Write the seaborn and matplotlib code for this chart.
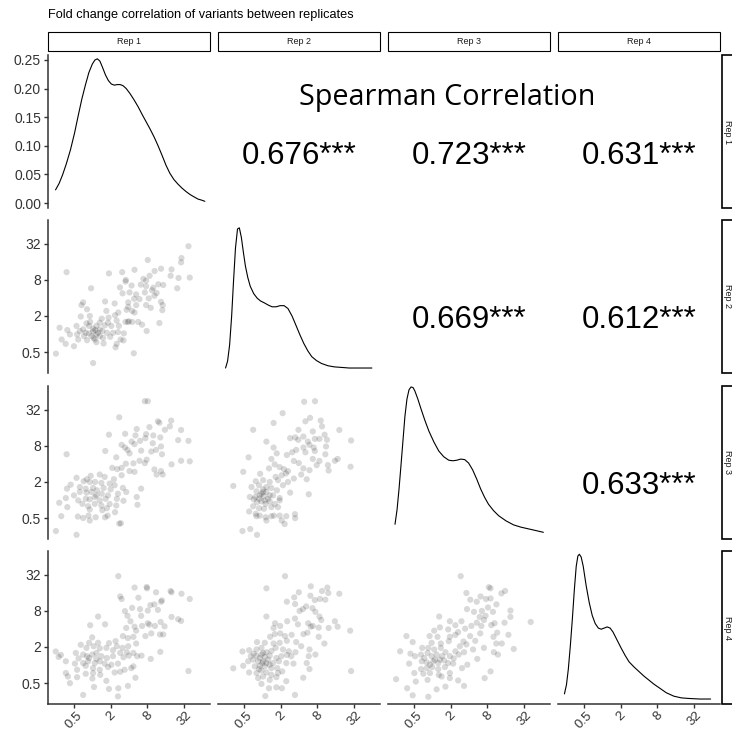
import numpy as np
import pandas as pd
import matplotlib
matplotlib.use("Agg")
import matplotlib.pyplot as plt
from matplotlib.patches import Rectangle
import seaborn as sns

# ---------------- data (log2 fold change) ----------------
reps = ["Rep 1", "Rep 2", "Rep 3", "Rep 4"]
tick_pos = [-1, 1, 3, 5]
tick_labels = ["0.5", "2", "8", "32"]
dens_ticks = [0.00, 0.05, 0.10, 0.15, 0.20, 0.25]

# scatter: Rep1 (x) vs Rep2 (y)
p21_x = [5.23,4.85,4.83,3.02,-1.39,0.91,1.63,2.30,3.39,3.74,4.31,4.26,4.69,5.30,3.12,2.78,1.83,1.81,-0.06,1.51,
         2.14,2.64,2.93,3.32,3.59,3.86,4.62,1.65,2.39,2.86,3.25,3.50,3.07,2.28,1.96,-0.49,-0.58,0.70,1.22,2.39,
         1.96,2.93,3.18,3.74,3.83,3.81,-0.28,0.77,1.42,1.24,1.87,2.17,-0.62,-0.13,0.52,0.89,1.33,1.81,1.99,2.17,
         2.50,2.71,3.65,-1.77,-1.35,-0.85,-0.31,-0.17,0.05,0.23,0.41,0.68,1.04,1.45,-0.35,-0.17,0.05,0.23,0.32,0.41,
         -0.67,-0.82,-1.21,0.55,0.80,1.40,1.72,2.96,-1.66,-0.76,-0.28,0.08,0.59,0.98,1.54,-1.44,-0.99,0.23,0.62,1.33,
         1.27,1.70,-1.97,2.26,0.05,-0.04,-0.44,0.17,1.13,2.03,2.57,3.38,1.94,2.93,2.30,0.86,-0.49,0.14,0.41,-0.11]
p21_y = [4.85,4.20,3.96,4.09,3.42,3.35,3.42,3.55,3.48,3.61,3.57,3.22,3.10,3.12,3.22,3.05,2.99,2.90,2.53,2.58,
         2.68,2.73,2.64,2.56,2.75,2.71,2.53,2.25,2.19,2.30,2.42,2.27,1.97,1.95,1.75,1.75,1.60,1.80,1.69,1.60,
         1.50,1.60,1.45,1.78,1.60,1.32,1.37,1.28,1.19,1.04,1.34,1.28,0.97,1.00,0.85,0.91,0.74,0.67,0.71,0.67,
         0.67,0.52,0.61,0.35,0.22,0.45,0.59,0.45,0.30,0.45,0.63,0.48,0.45,0.45,0.07,0.04,0.15,-0.02,0.07,-0.11,
         0.17,-0.02,-0.02,0.17,0.07,0.11,0.04,0.17,-0.30,-0.30,-0.34,-0.21,-0.21,-0.15,-0.30,-0.54,-0.67,-0.45,-0.52,-0.54,
         -0.73,-0.35,-1.08,-1.06,-1.60,-0.11,-0.11,0.22,0.07,2.30,1.93,2.12,0.67,2.95,1.19,0.63,0.26,-0.30,0.26,0.67]

# scatter: Rep1 (x) vs Rep3 (y)
p31_x = [2.86,3.02,1.47,3.57,3.65,4.29,2.42,3.11,3.95,4.22,4.83,0.91,1.79,2.35,2.93,3.32,2.89,3.70,4.67,5.23,
         1.60,1.78,1.92,2.14,2.30,2.60,3.29,3.74,0.71,2.03,2.66,3.21,3.47,3.79,-1.39,1.31,1.83,2.24,2.57,2.96,
         2.86,4.31,4.83,5.30,1.09,1.36,1.60,2.03,2.30,3.38,3.74,3.50,3.83,-0.85,-0.29,-0.08,0.41,0.68,1.18,1.60,
         -1.17,-0.46,-0.13,0.16,0.50,0.95,1.22,-1.37,-0.67,-0.35,0.05,0.26,0.62,1.00,1.67,2.66,-0.99,-0.67,-0.31,-0.04,
         0.23,0.52,0.86,1.40,1.85,-1.43,-0.76,-0.35,-0.13,0.14,0.41,0.73,1.34,1.70,2.42,-1.79,-0.53,-0.22,0.14,0.50,
         0.95,-1.35,-0.13,0.55,0.80,1.31,2.46,-1.68,-0.78,-0.49,-0.20,-0.13,0.19,0.70,0.84,1.24,1.47,1.56,-1.97,-0.85]
p31_y = [5.46,5.46,4.57,4.35,4.27,4.39,3.92,4.03,3.88,4.07,3.87,3.61,3.66,3.57,3.64,3.57,3.42,3.46,3.31,3.27,
         3.05,2.90,2.77,3.23,3.09,3.27,3.14,2.96,2.71,2.58,2.73,2.68,2.77,2.53,2.53,2.36,2.01,2.03,2.17,2.23,
         2.04,1.97,2.17,2.14,1.78,1.71,1.78,1.60,1.56,1.69,1.60,1.41,1.41,1.23,1.15,1.34,1.41,1.28,1.15,1.37,
         0.85,1.04,1.00,1.00,0.95,0.91,0.82,0.63,0.72,0.63,0.67,0.54,0.67,0.59,0.67,0.63,0.26,0.45,0.41,0.45,
         0.26,0.35,0.26,0.35,0.45,0.11,-0.02,0.07,0.04,0.17,-0.02,0.07,0.07,-0.04,0.17,-0.15,-0.21,-0.34,-0.21,-0.30,
         -0.22,-0.39,-0.52,-0.56,-0.45,-0.30,-0.26,-0.89,-0.91,-0.99,-0.86,-1.13,-0.95,-0.95,-0.86,-0.67,-1.30,-1.28,-1.71,-1.92]

# scatter: Rep2 (x) vs Rep3 (y)
p32_x = [2.28,2.87,1.11,0.62,2.35,2.60,3.18,3.25,-0.49,1.97,4.19,2.75,3.39,1.79,1.96,2.24,0.23,1.52,2.48,2.86,
         3.11,3.52,4.83,2.57,2.80,2.24,1.85,0.62,2.86,3.47,0.79,1.34,1.63,2.35,3.43,-0.74,0.50,1.72,1.99,2.75,
         2.96,3.11,3.57,3.95,4.10,4.80,0.68,0.95,1.18,1.40,1.29,2.57,2.24,3.61,-1.03,0.37,-0.11,0.73,1.06,1.72,
         2.12,2.42,-1.57,-0.35,0.05,0.41,0.86,1.40,-0.58,-0.17,0.05,0.23,0.50,0.80,1.52,2.53,-0.31,-0.04,-0.67,-0.37,
         -0.17,0.08,0.32,0.59,0.95,-0.28,-0.04,0.19,0.41,0.68,0.95,-0.49,-0.17,0.10,0.50,0.86,-0.71,-0.35,-0.13,0.19,
         0.50,-0.31,0.23,0.64,0.95,1.06,1.22,1.31,1.78,1.79,-1.07,-0.65,-0.28,0.05,-0.13,0.23,-0.46,0.41,1.13,0.14]
p32_y = [5.43,5.46,4.80,4.26,4.35,4.54,4.39,4.07,3.88,3.88,3.87,3.79,3.61,3.46,3.33,3.51,3.23,3.42,3.23,3.38,
         3.38,3.33,3.29,3.05,2.90,2.90,2.77,2.90,2.71,2.96,2.58,2.49,2.64,2.64,2.53,2.36,2.27,2.16,2.04,2.27,
         1.93,2.16,1.93,2.17,2.27,1.84,1.97,1.82,1.71,1.60,1.47,1.65,1.75,1.63,1.56,1.75,1.45,1.28,1.37,1.19,
         1.41,1.15,0.78,1.04,1.10,1.00,1.10,1.00,0.72,0.82,0.59,0.72,0.67,0.54,0.41,0.32,0.48,0.35,0.17,0.17,
         0.07,0.22,0.07,0.26,0.11,-0.11,-0.07,-0.21,-0.07,-0.22,-0.02,-0.34,-0.45,-0.48,-0.39,-0.39,-0.63,-0.76,-0.86,-0.95,
         -0.89,-0.89,-1.13,-0.86,-0.86,-1.13,-1.32,-0.89,-0.78,-1.00,-1.71,-1.60,-1.92,0.45,0.26,0.45,0.04,0.26,0.82,-0.02]

# scatter: Rep1 (x) vs Rep4 (y)
p41_x = [1.42,2.30,2.96,2.98,3.47,4.26,4.31,4.85,1.52,1.60,2.51,5.30,3.38,3.79,3.74,1.78,2.17,2.60,3.02,3.57,
         0.32,1.92,2.08,2.66,3.16,4.31,4.67,4.83,-0.11,0.70,1.85,2.30,2.71,3.02,3.11,3.41,3.72,3.93,2.39,3.21,
         2.89,3.68,3.86,1.67,1.94,2.24,1.27,0.00,-0.17,-0.62,0.32,0.91,1.34,1.65,1.96,2.39,-1.98,-1.70,-0.89,-0.31,
         0.08,0.41,0.77,1.13,1.52,1.88,2.24,2.44,2.68,3.70,-1.82,-1.43,-0.74,-0.49,-0.28,0.01,0.23,0.50,0.80,1.13,
         1.70,1.99,3.18,-0.94,-0.49,-0.22,0.14,0.41,0.68,1.04,1.40,2.24,-0.82,-0.35,0.05,0.41,0.86,1.22,1.52,1.76,
         2.12,-1.43,-1.32,-0.82,-0.35,0.05,0.44,5.23,-1.21,0.01,0.77,2.35,0.10,0.91,1.42,1.94,-0.49,1.40,-0.17,0.23]
p41_y = [4.91,4.28,4.31,4.24,4.02,4.09,4.02,3.94,3.79,3.65,3.72,3.65,3.35,3.57,3.50,2.98,3.16,3.09,3.01,3.05,
         2.68,2.72,2.42,2.72,3.31,2.66,2.53,2.44,2.20,2.25,2.05,2.12,2.16,2.31,2.23,2.16,2.38,2.14,1.90,1.75,
         1.60,1.69,1.69,1.60,1.49,1.56,1.32,1.53,1.23,1.12,1.23,1.21,1.04,0.95,1.04,1.19,0.75,0.56,0.67,0.95,
         1.04,0.93,0.95,0.82,0.67,0.71,0.67,0.49,0.52,0.73,0.45,0.21,0.37,0.58,0.49,0.58,0.67,0.49,0.39,0.49,
         0.43,0.52,0.34,0.08,0.11,0.21,0.11,0.21,0.08,0.02,0.08,-0.07,-0.26,-0.04,-0.17,-0.26,-0.11,-0.41,-0.37,-0.26,
         -0.17,-0.44,-0.63,-0.67,-0.48,-0.44,-0.54,-0.33,-1.00,-0.74,-0.87,-0.70,-1.21,-1.32,-1.28,-1.15,-1.65,-1.73,0.39,0.34]

# scatter: Rep2 (x) vs Rep4 (y)
p42_x = [1.24,0.23,2.64,3.25,3.54,3.59,1.99,4.19,1.74,2.62,2.86,3.14,3.43,1.34,1.79,2.39,2.21,2.03,2.73,2.89,
         3.11,3.21,0.23,1.36,1.78,1.94,0.70,0.98,0.62,2.50,2.64,2.75,3.07,3.61,3.95,4.10,4.78,0.43,0.68,0.98,
         1.24,1.60,2.24,2.46,3.07,3.38,-0.28,0.14,0.62,0.95,1.34,1.85,2.12,2.57,-1.07,-0.71,-0.31,-0.04,0.23,0.50,
         0.73,1.13,1.45,1.81,2.89,-1.03,-1.57,-0.62,-0.31,-0.04,0.14,0.41,0.77,1.04,1.58,2.53,-0.76,-0.49,-0.22,0.05,
         0.32,0.59,0.91,1.31,2.42,-0.40,-0.13,0.14,0.41,0.82,1.70,-0.71,-0.31,-0.04,0.23,0.50,0.86,2.57,4.83,-0.22,
         0.05,0.41,0.77,1.31,2.23,-0.04,0.37,0.77,1.07,0.17,1.78,-0.13,0.05,-0.17,-0.46,0.23,0.01,0.50,1.09,1.34]
p42_y = [4.91,4.24,4.35,4.09,4.28,3.98,4.02,3.94,3.74,3.83,3.59,3.65,3.61,3.50,3.37,3.24,3.09,2.99,3.14,2.94,
         2.68,2.49,2.68,2.42,2.57,2.25,2.31,2.16,2.05,2.31,2.12,2.16,2.07,2.05,2.42,2.12,1.90,1.56,1.71,1.75,
         1.60,1.67,1.71,1.79,1.56,1.19,1.27,1.23,1.19,1.23,1.34,1.27,1.04,0.86,0.75,0.82,0.86,0.95,0.71,0.78,
         0.95,0.86,0.76,0.71,0.58,-0.04,-0.18,0.49,0.52,0.58,0.45,0.52,0.39,0.49,0.49,0.49,0.21,0.30,0.21,0.21,
         0.30,0.11,0.21,0.11,0.11,-0.07,-0.04,-0.07,0.02,-0.17,0.08,-0.41,-0.44,-0.30,-0.41,-0.54,-0.44,-0.22,-0.33,-0.72,
         -0.63,-0.82,-0.67,-0.89,-0.70,-1.04,-1.28,-1.23,-1.28,-1.71,-1.65,0.39,0.67,-0.22,0.63,0.11,0.11,-0.17,-0.35,0.56]

# scatter: Rep3 (x) vs Rep4 (y)
p43_x = [1.55,3.08,3.17,3.76,3.96,1.86,2.07,2.63,2.92,2.42,3.17,3.49,3.03,4.25,1.89,2.27,2.70,3.30,2.58,2.81,
         2.90,4.25,0.38,0.96,1.26,1.59,1.79,2.13,2.42,2.67,3.21,3.39,3.93,5.35,0.42,0.11,0.87,1.41,2.06,2.61,
         3.33,3.53,4.14,-1.40,-0.14,0.29,0.96,1.26,1.70,2.34,2.81,3.48,3.78,4.43,-1.06,-0.03,0.47,0.90,1.50,1.86,
         -1.74,-1.18,-0.54,-0.21,0.11,0.47,0.72,1.26,1.73,2.22,3.35,3.57,-0.93,-0.61,-0.25,-0.03,0.24,0.54,0.96,1.44,
         2.45,-1.25,-0.57,-0.30,0.06,0.33,0.65,1.14,1.91,-0.61,-0.30,0.00,0.33,0.69,1.62,-0.97,-0.48,-0.12,0.36,0.96,
         3.17,-1.96,-0.89,-0.25,0.51,0.96,1.41,2.85,-1.36,0.24,0.72,1.73,-1.06,-0.21,0.15,-0.12,-0.43,0.42,0.87,1.17]
p43_y = [4.91,4.30,4.24,3.96,4.09,3.98,3.61,3.79,3.65,3.50,3.68,3.35,3.18,3.01,3.09,2.94,2.99,2.94,2.66,2.49,
         2.72,2.66,2.68,2.42,2.20,2.42,2.01,2.16,2.34,2.16,2.21,2.31,2.34,2.38,2.08,1.90,1.97,1.82,1.60,1.75,
         1.56,1.79,1.67,1.60,1.60,1.56,1.56,1.67,1.30,1.34,0.95,1.19,1.19,0.89,1.27,1.23,1.19,1.32,1.04,1.14,
         0.76,0.63,0.95,0.95,0.86,0.95,0.71,0.76,0.71,0.86,0.71,0.58,0.49,0.58,0.67,0.49,0.58,0.49,0.49,0.58,
         0.34,0.08,0.21,0.15,0.21,0.11,0.26,0.08,0.02,-0.22,-0.17,-0.11,-0.22,-0.11,-0.17,-0.44,-0.48,-0.44,-0.54,-0.44,
         -0.35,-0.78,-0.91,-0.82,-0.63,-0.72,-0.85,-0.72,-1.28,-1.34,-1.19,-1.15,-1.67,-1.75,0.30,0.02,0.39,0.30,0.11,0.37]

# diagonal density curves (log2 FC, density)
dens1_x = [-1.99,-1.80,-1.61,-1.40,-1.18,-0.96,-0.75,-0.56,-0.37,-0.18,0.01,0.15,0.28,0.42,0.55,0.72,0.88,1.04,1.20,
           1.36,1.52,1.68,1.85,2.06,2.28,2.50,2.71,2.93,3.15,3.37,3.58,3.80,4.01,4.22,4.44,4.66,4.88,5.10,5.31,5.52,5.74,5.95,6.12]
dens1_y = [0.023,0.034,0.049,0.069,0.093,0.122,0.154,0.182,0.206,0.228,0.243,0.250,0.252,0.248,0.238,0.224,0.214,0.208,0.206,
           0.207,0.207,0.205,0.200,0.191,0.180,0.168,0.155,0.142,0.129,0.115,0.100,0.083,0.066,0.052,0.041,0.033,0.026,0.020,0.015,0.011,0.007,0.005,0.003]
dens2_x = [-1.99,-1.88,-1.77,-1.66,-1.56,-1.45,-1.34,-1.24,-1.13,-1.02,-0.91,-0.78,-0.65,-0.46,-0.27,-0.08,0.11,0.33,0.54,
           0.76,0.97,1.19,1.40,1.62,1.83,2.05,2.26,2.48,2.69,2.95,3.22,3.57,3.92,4.33,4.73,5.35,5.96]
dens2_y = [0.000,0.012,0.040,0.090,0.150,0.210,0.243,0.245,0.228,0.202,0.178,0.158,0.143,0.130,0.122,0.117,0.114,0.110,0.107,
           0.107,0.109,0.109,0.104,0.091,0.075,0.058,0.043,0.030,0.020,0.013,0.008,0.004,0.002,0.001,0.000,0.000,0.000]
dens3_x = [-2.02,-1.91,-1.80,-1.69,-1.58,-1.48,-1.37,-1.26,-1.15,-1.04,-0.94,-0.78,-0.61,-0.40,-0.18,0.09,0.36,0.63,0.90,
           1.12,1.34,1.55,1.77,1.98,2.20,2.42,2.63,2.85,3.06,3.33,3.61,4.01,4.42,4.82,5.23,5.64,6.04]
dens3_y = [0.017,0.042,0.079,0.122,0.166,0.206,0.236,0.252,0.257,0.256,0.250,0.236,0.219,0.199,0.180,0.161,0.145,0.135,0.129,
           0.128,0.129,0.131,0.130,0.124,0.112,0.096,0.079,0.064,0.052,0.041,0.032,0.023,0.016,0.012,0.009,0.006,0.003]
dens4_x = [-2.05,-1.94,-1.84,-1.73,-1.62,-1.51,-1.41,-1.32,-1.24,-1.14,-1.03,-0.87,-0.70,-0.54,-0.38,-0.21,-0.05,0.11,0.27,
           0.43,0.59,0.81,1.03,1.25,1.46,1.73,2.00,2.27,2.54,2.81,3.08,3.48,3.89,4.30,4.70,5.30,5.89]
dens4_y = [0.009,0.025,0.052,0.093,0.140,0.192,0.232,0.250,0.253,0.248,0.232,0.198,0.168,0.146,0.132,0.124,0.122,0.124,0.126,
           0.124,0.117,0.103,0.089,0.076,0.065,0.056,0.048,0.040,0.033,0.026,0.020,0.011,0.005,0.002,0.001,0.000,0.000]

corr_pairs = [(0, 1), (0, 2), (0, 3), (1, 2), (1, 3), (2, 3)]
corr_values = [0.676, 0.723, 0.631, 0.669, 0.612, 0.633]
corr_stars = ["***", "***", "***", "***", "***", "***"]
title = "Fold change correlation of variants between replicates"
upper_title = "Spearman Correlation"

scatters = {(1, 0): (p21_x, p21_y), (2, 0): (p31_x, p31_y), (2, 1): (p32_x, p32_y),
            (3, 0): (p41_x, p41_y), (3, 1): (p42_x, p42_y), (3, 2): (p43_x, p43_y)}
densities = [(dens1_x, dens1_y), (dens2_x, dens2_y), (dens3_x, dens3_y), (dens4_x, dens4_y)]

# ---------------- style / layout ----------------
sns.set_theme(style="white")
plt.rcParams["font.family"] = ["Liberation Sans", "DejaVu Sans"]

W = H = 732
fig = plt.figure(figsize=(7.32, 7.32), dpi=100)

def frac(l, t, w, h):
    return [l / W, 1 - (t + h) / H, w / W, h / H]

col_left = [48, 218, 388, 558]
col_w = 162
row_top = [55, 220, 386, 551]
row_h = 153
XLIM = (-2.4, 6.4)
YLIM = (-2.15, 6.3)
DLIM = (-0.0087, 0.2587)
axis_col = "#333333"
txt_col = "#333333"

for r in range(4):
    for c in range(4):
        if c > r:
            continue
        ax = fig.add_axes(frac(col_left[c], row_top[r], col_w, row_h))
        ax.set_facecolor("none")
        for s in ax.spines.values():
            s.set_visible(False)
        ax.set_xlim(*XLIM)
        if r == c:
            dx, dy = densities[r]
            sns.lineplot(x=dx, y=dy, ax=ax, color="black", linewidth=0.8,
                         estimator=None, sort=False)
            ax.set_ylim(*DLIM)
        else:
            sx, sy = scatters[(r, c)]
            sns.scatterplot(x=sx, y=sy, ax=ax, color="black", alpha=0.15, s=20,
                            linewidth=0, edgecolor="none")
            ax.set_ylim(*YLIM)
        ax.set_xlabel("")
        ax.set_ylabel("")
        # y axis
        if c == 0:
            ax.spines["left"].set_visible(True)
            ax.spines["left"].set_color(axis_col)
            ax.spines["left"].set_linewidth(1.1)
            if r == 0:
                ax.set_yticks(dens_ticks)
                ax.set_yticklabels([f"{v:.2f}" for v in dens_ticks])
            else:
                ax.set_yticks(tick_pos)
                ax.set_yticklabels(tick_labels)
            ax.tick_params(axis="y", left=True, length=3, width=1.0, color=axis_col,
                           labelsize=10, labelcolor=txt_col, pad=2)
        else:
            ax.set_yticks([])
        # x axis
        if r == 3:
            ax.spines["bottom"].set_visible(True)
            ax.spines["bottom"].set_color(axis_col)
            ax.spines["bottom"].set_linewidth(1.1)
            ax.set_xticks(tick_pos)
            ax.set_xticklabels(tick_labels, rotation=45, ha="center", va="top")
            ax.tick_params(axis="x", bottom=True, length=3, width=1.0, color=axis_col,
                           labelsize=9.5, labelcolor=txt_col, pad=1)
        else:
            ax.set_xticks([])
        ax.grid(False)

# strips
for c in range(4):
    fig.patches.append(Rectangle((col_left[c] / W, 1 - 51 / H), col_w / W, 19 / H,
                                 transform=fig.transFigure, facecolor="white",
                                 edgecolor="black", linewidth=0.8))
    fig.text((col_left[c] + col_w / 2) / W, 1 - 41.5 / H, reps[c], ha="center",
             va="center", fontsize=6.5, color="#1a1a1a")
for r in range(4):
    fig.patches.append(Rectangle((722 / W, 1 - (row_top[r] + row_h) / H), 30 / W, row_h / H,
                                 transform=fig.transFigure, facecolor="white",
                                 edgecolor="black", linewidth=1.2))
    fig.text(727.5 / W, 1 - (row_top[r] + row_h / 2) / H, reps[r], ha="center",
             va="center", rotation=-90, fontsize=6.5, color="#1a1a1a")

# title
fig.text(48 / W, 1 - 15 / H, title, ha="left", va="center", fontsize=9.2, color="black")

# upper triangle: correlations
fig.text(447 / W, 1 - 97 / H, upper_title, ha="center", va="center", fontsize=20.7,
         family=["Open Sans", "DejaVu Sans"], color="black")
for (r, c), v, st in zip(corr_pairs, corr_values, corr_stars):
    cx = col_left[c] + col_w / 2
    cy = row_top[r] + row_h / 2 + 24
    fig.text(cx / W, 1 - cy / H, f"{v:.3f}{st}", ha="center", va="center",
             fontsize=22.5, color="black")

fig.savefig("out.png", dpi=100)
